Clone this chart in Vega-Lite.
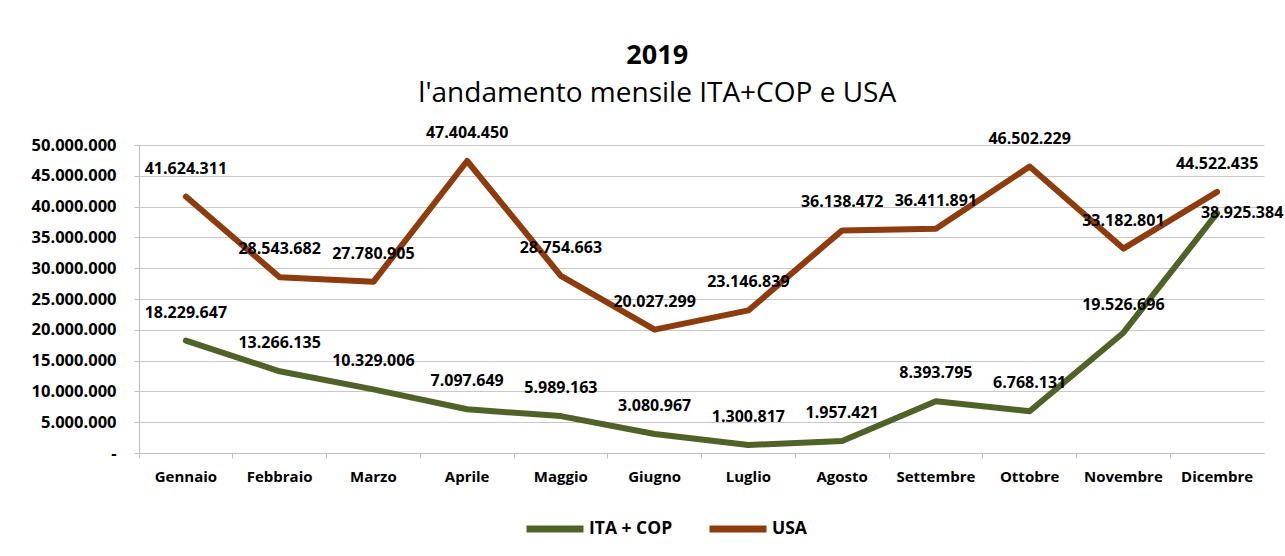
{
  "$schema": "https://vega.github.io/schema/vega-lite/v6.json",
  "width": 1125,
  "height": 308,
  "autosize": {"type": "none"},
  "padding": {"left": 139, "top": 145, "right": 21, "bottom": 103},
  "background": "white",
  "config": {
    "locale": {"number": {"decimal": ",", "thousands": ".", "grouping": [3], "currency": ["", " €"]}},
    "font": "Open Sans",
    "view": {"stroke": null},
    "axis": {"labelColor": "black", "labelFont": "Open Sans", "labelFontSize": 15, "labelFontWeight": "bold", "domainColor": "#BFBFBF", "tickColor": "#BFBFBF", "gridColor": "#C8C8C8", "tickSize": 5}
  },
  "title": {
    "text": "2019",
    "subtitle": "l'andamento mensile ITA+COP e USA",
    "anchor": "middle",
    "frame": "bounds",
    "font": "Open Sans",
    "fontSize": 27,
    "fontWeight": "bold",
    "color": "black",
    "subtitleFont": "Open Sans",
    "subtitleFontSize": 28,
    "subtitleFontWeight": "normal",
    "subtitleColor": "black",
    "subtitlePadding": 10,
    "offset": 16
  },
  "data": {
    "values": [
      {"mese": "Gennaio", "serie": "ITA + COP", "valore": 18229647, "lbl": "18.229.647"},
      {"mese": "Febbraio", "serie": "ITA + COP", "valore": 13266135, "lbl": "13.266.135"},
      {"mese": "Marzo", "serie": "ITA + COP", "valore": 10329006, "lbl": "10.329.006"},
      {"mese": "Aprile", "serie": "ITA + COP", "valore": 7097649, "lbl": "7.097.649"},
      {"mese": "Maggio", "serie": "ITA + COP", "valore": 5989163, "lbl": "5.989.163"},
      {"mese": "Giugno", "serie": "ITA + COP", "valore": 3080967, "lbl": "3.080.967"},
      {"mese": "Luglio", "serie": "ITA + COP", "valore": 1300817, "lbl": "1.300.817"},
      {"mese": "Agosto", "serie": "ITA + COP", "valore": 1957421, "lbl": "1.957.421"},
      {"mese": "Settembre", "serie": "ITA + COP", "valore": 8393795, "lbl": "8.393.795"},
      {"mese": "Ottobre", "serie": "ITA + COP", "valore": 6768131, "lbl": "6.768.131"},
      {"mese": "Novembre", "serie": "ITA + COP", "valore": 19526696, "lbl": "19.526.696"},
      {"mese": "Dicembre", "serie": "ITA + COP", "valore": 38925384, "lbl": "38.925.384"},
      {"mese": "Gennaio", "serie": "USA", "valore": 41624311, "lbl": "41.624.311"},
      {"mese": "Febbraio", "serie": "USA", "valore": 28543682, "lbl": "28.543.682"},
      {"mese": "Marzo", "serie": "USA", "valore": 27780905, "lbl": "27.780.905"},
      {"mese": "Aprile", "serie": "USA", "valore": 47404450, "lbl": "47.404.450"},
      {"mese": "Maggio", "serie": "USA", "valore": 28754663, "lbl": "28.754.663"},
      {"mese": "Giugno", "serie": "USA", "valore": 20027299, "lbl": "20.027.299"},
      {"mese": "Luglio", "serie": "USA", "valore": 23146839, "lbl": "23.146.839"},
      {"mese": "Agosto", "serie": "USA", "valore": 36138472, "lbl": "36.138.472"},
      {"mese": "Settembre", "serie": "USA", "valore": 36411891, "lbl": "36.411.891"},
      {"mese": "Ottobre", "serie": "USA", "valore": 46502229, "lbl": "46.502.229"},
      {"mese": "Novembre", "serie": "USA", "valore": 33182801, "lbl": "33.182.801"},
      {"mese": "Dicembre", "serie": "USA", "valore": 42400000, "lbl": "44.522.435"}
    ]
  },
  "encoding": {
    "x": {
      "field": "mese",
      "type": "nominal",
      "sort": ["Gennaio", "Febbraio", "Marzo", "Aprile", "Maggio", "Giugno", "Luglio", "Agosto", "Settembre", "Ottobre", "Novembre", "Dicembre"],
      "scale": {"type": "band", "paddingInner": 0, "paddingOuter": 0},
      "bandPosition": 0.5,
      "axis": {"title": null, "labelAngle": 0, "bandPosition": 0, "grid": false, "labelPadding": 11}
    },
    "y": {
      "field": "valore",
      "type": "quantitative",
      "scale": {"domain": [0, 50000000], "nice": false},
      "axis": {"title": null, "values": [0, 5000000, 10000000, 15000000, 20000000, 25000000, 30000000, 35000000, 40000000, 45000000, 50000000], "format": ",.0f", "labelExpr": "datum.value == 0 ? '-' : datum.label", "labelPadding": 18, "labelFontSize": 16.5, "grid": true}
    }
  },
  "layer": [
    {
      "mark": {"type": "line", "strokeWidth": 6, "strokeCap": "round", "strokeJoin": "round"},
      "encoding": {
        "color": {
          "field": "serie",
          "type": "nominal",
          "scale": {"domain": ["ITA + COP", "USA"], "range": ["#4F6228", "#8E3B0D"]},
          "legend": {"title": null, "orient": "none", "legendX": 384, "legendY": 352, "direction": "horizontal", "symbolType": "stroke", "symbolStrokeWidth": 7, "symbolSize": 3249, "labelFont": "Open Sans", "labelFontSize": 17.5, "labelFontWeight": "bold", "labelColor": "black", "columnPadding": 22, "labelOffset": 2}
        }
      }
    },
    {
      "transform": [{"filter": "!(datum.serie == 'ITA + COP' && datum.mese == 'Dicembre')"}],
      "mark": {"type": "text", "dy": -28, "fontSize": 16, "fontWeight": "bold", "font": "Open Sans", "color": "black"},
      "encoding": {"text": {"field": "lbl", "type": "nominal"}}
    },
    {
      "transform": [{"filter": "datum.serie == 'ITA + COP' && datum.mese == 'Dicembre'"}],
      "mark": {"type": "text", "dx": 25, "dy": 0, "fontSize": 16, "fontWeight": "bold", "font": "Open Sans", "color": "black"},
      "encoding": {"text": {"field": "lbl", "type": "nominal"}}
    }
  ]
}
